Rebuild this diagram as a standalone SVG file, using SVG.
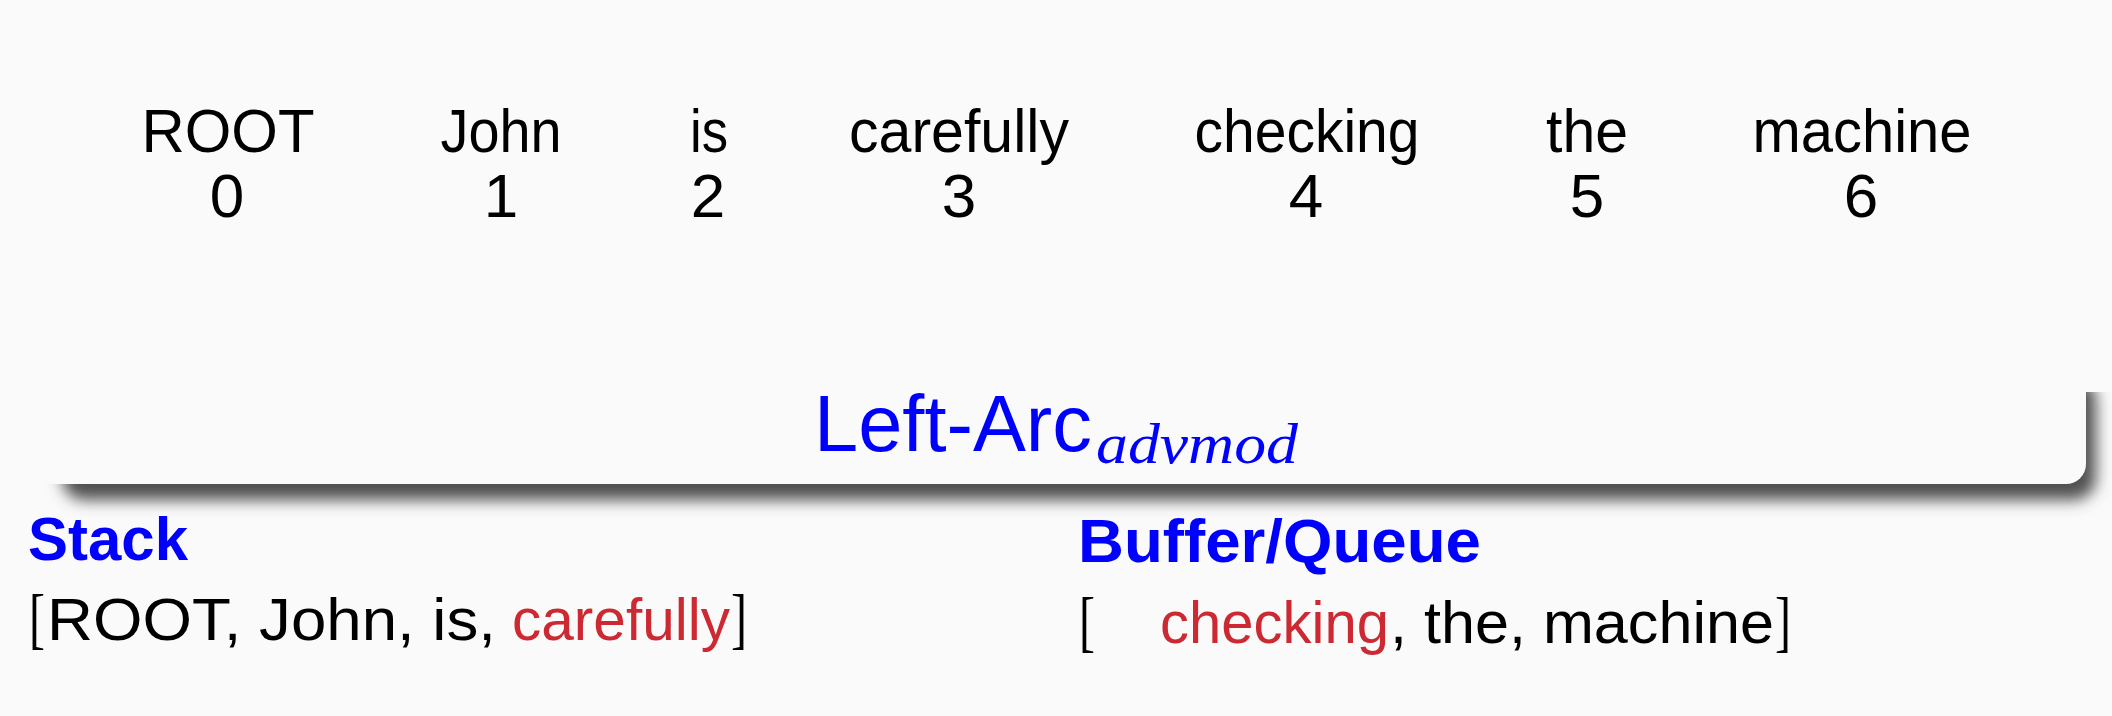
<svg xmlns="http://www.w3.org/2000/svg" width="2112" height="716" viewBox="0 0 2112 716">
<style>
.w{font-family:"Liberation Sans",Arial,sans-serif;font-size:62px;fill:#000;text-anchor:middle}
.hd{font-family:"Liberation Sans",Arial,sans-serif;font-size:62px;font-weight:bold;fill:#0000ff}
.ln{font-family:"Liberation Sans",Arial,sans-serif;font-size:60px;fill:#000}
.br{font-family:"Liberation Serif","Times New Roman",serif;font-size:68px;fill:#000}
.red{fill:#cc2933}
.ttl{font-family:"Liberation Sans",Arial,sans-serif;font-size:80px;fill:#0000ff}
.sub{font-family:"Liberation Serif","Times New Roman",serif;font-style:italic;font-size:58px;fill:#0000ff}
</style>
<defs>
<filter id="blur" x="-5%" y="-50%" width="110%" height="200%"><feGaussianBlur stdDeviation="7.5"/></filter>
<clipPath id="clipTop"><rect x="0" y="392" width="2112" height="324"/></clipPath>
</defs>
<rect width="2112" height="716" fill="#fafafa"/>
<g id="words">
<g id="w0"><text class="w" x="228" y="152" textLength="173" lengthAdjust="spacingAndGlyphs">ROOT</text><text class="w" x="227" y="217">0</text></g>
<g id="w1"><text class="w" x="501" y="152" textLength="121" lengthAdjust="spacingAndGlyphs">John</text><text class="w" x="501" y="217">1</text></g>
<g id="w2"><text class="w" x="709" y="152" textLength="38" lengthAdjust="spacingAndGlyphs">is</text><text class="w" x="708" y="217">2</text></g>
<g id="w3"><text class="w" x="959" y="152" textLength="220" lengthAdjust="spacingAndGlyphs">carefully</text><text class="w" x="959" y="217">3</text></g>
<g id="w4"><text class="w" x="1307" y="152" textLength="225" lengthAdjust="spacingAndGlyphs">checking</text><text class="w" x="1306" y="217">4</text></g>
<g id="w5"><text class="w" x="1587" y="152" textLength="82" lengthAdjust="spacingAndGlyphs">the</text><text class="w" x="1587" y="217">5</text></g>
<g id="w6"><text class="w" x="1862" y="152" textLength="219" lengthAdjust="spacingAndGlyphs">machine</text><text class="w" x="1861" y="217">6</text></g>
</g>
<g id="banner">
<g clip-path="url(#clipTop)"><rect x="62" y="378" width="2034" height="122" rx="22" fill="#505050" filter="url(#blur)"/></g>
<rect x="36" y="360" width="2050" height="124" rx="20" fill="#fafafa"/>
<text class="ttl" x="814" y="451" textLength="278" lengthAdjust="spacingAndGlyphs">Left-Arc</text>
<text class="sub" x="1096" y="463" textLength="202" lengthAdjust="spacingAndGlyphs">advmod</text>
</g>
<g id="stack">
<text class="hd" x="28" y="560" textLength="160" lengthAdjust="spacingAndGlyphs">Stack</text>
<text class="br" x="29" y="641" textLength="16" lengthAdjust="spacingAndGlyphs">[</text>
<text class="ln" x="47" y="640" textLength="449" lengthAdjust="spacingAndGlyphs">ROOT, John, is,</text>
<text class="ln red" x="512" y="640" textLength="218" lengthAdjust="spacingAndGlyphs">carefully</text>
<text class="br" x="731" y="641" textLength="16" lengthAdjust="spacingAndGlyphs">]</text>
</g>
<g id="buffer">
<text class="hd" x="1078" y="562" textLength="403" lengthAdjust="spacingAndGlyphs">Buffer/Queue</text>
<text class="br" x="1079" y="644" textLength="16" lengthAdjust="spacingAndGlyphs">[</text>
<text class="ln red" x="1160" y="643" textLength="229" lengthAdjust="spacingAndGlyphs">checking</text>
<text class="ln" x="1390" y="643" textLength="384" lengthAdjust="spacingAndGlyphs">, the, machine</text>
<text class="br" x="1775" y="644" textLength="16" lengthAdjust="spacingAndGlyphs">]</text>
</g>
<g id="connectors"/>
</svg>
